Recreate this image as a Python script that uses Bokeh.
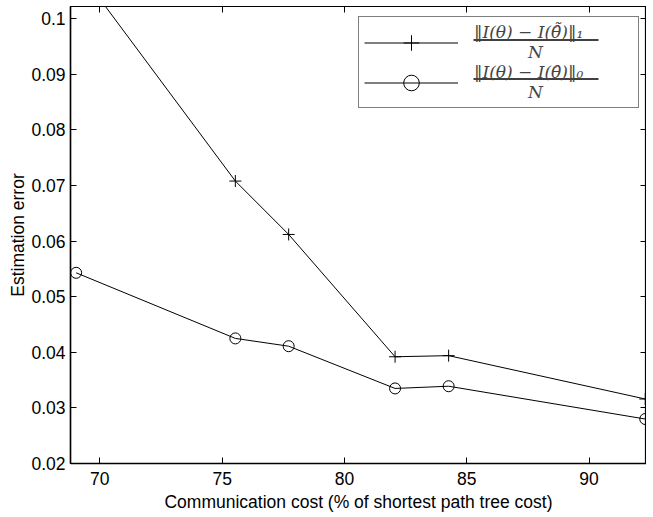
from bokeh.plotting import figure
from bokeh.models import (Range1d, FixedTicker, LinearAxis, Legend, LegendItem,
                          BoxAnnotation)
from bokeh.embed import file_html
from bokeh.resources import INLINE

# ---- data ----
cost = [69.03, 75.54, 77.72, 82.07, 84.26, 92.3]
err_l1 = [0.1093, 0.0708, 0.0612, 0.0392, 0.0394, 0.0316]
err_l0 = [0.0543, 0.0425, 0.0411, 0.0335, 0.0339, 0.0280]
x_ticks = [70, 75, 80, 85, 90]
y_ticks = [0.02, 0.03, 0.04, 0.05, 0.06, 0.07, 0.08, 0.09, 0.1]
y_tick_labels = ["0.02", "0.03", "0.04", "0.05", "0.06", "0.07", "0.08", "0.09", "0.1"]
label_l1 = "\u2016I(\u03b8) \u2212 I(\u03b8\u0302\u0303)\u2016\u2081\n          N"
label_l0 = "\u2016I(\u03b8) \u2212 I(\u03b8\u0302)\u2016\u2080\n          N"
x_title = "Communication cost (% of shortest path tree cost)"
y_title = "Estimation error"

X0, X1 = 68.8, 92.35
Y0, Y1 = 0.02, 0.1022

# ---- layout geometry (page px, measured on the rendered picture) ----
OX, OY = 4, 2            # observed canvas offset in the picture
FL, FW = 74, 576         # frame left, frame width
FT, FH = 8, 457          # frame top, frame height

def dx(px):
    return X0 + (px - FL) / FW * (X1 - X0)

def dy(py):
    return Y1 - (py - FT) / FH * (Y1 - Y0)

SANS = "Liberation Sans"
SERIF = "DejaVu Serif"
FS = "17.5px"

p = figure(frame_width=FW, frame_height=FH, x_range=Range1d(X0, X1),
           y_range=Range1d(Y0, Y1), output_backend="svg", toolbar_location=None,
           min_border_left=FL - OX, min_border_right=0, min_border_top=FT - OY,
           min_border_bottom=0)
p.background_fill_color = "white"
p.border_fill_color = "white"
p.grid.visible = False
p.outline_line_color = "black"
p.outline_line_width = 1.2

for ax in (p.xaxis[0], p.yaxis[0]):
    ax.major_tick_in = 6
    ax.major_tick_out = 0
    ax.minor_tick_line_color = None
    ax.axis_line_width = 1.5
    ax.major_tick_line_width = 1
    ax.major_label_text_font = SANS
    ax.major_label_text_font_size = FS
    ax.major_label_text_color = "black"
    ax.axis_label_text_font = SANS
    ax.axis_label_text_font_size = FS
    ax.axis_label_text_font_style = "normal"
    ax.axis_label_text_color = "black"

p.xaxis.ticker = FixedTicker(ticks=x_ticks)
p.yaxis.ticker = FixedTicker(ticks=y_ticks)
p.yaxis.major_label_overrides = {t: s for t, s in zip(y_ticks, y_tick_labels)}
p.xaxis.axis_label = x_title
p.yaxis.axis_label = y_title
p.xaxis.major_label_standoff = 8
p.xaxis.axis_label_standoff = 4
p.yaxis.major_label_standoff = 5
p.yaxis.axis_label_standoff = 0

for loc, tick in (("above", x_ticks), ("right", y_ticks)):
    ax = LinearAxis(ticker=FixedTicker(ticks=tick), major_tick_in=6,
                    major_tick_out=0, minor_tick_line_color=None,
                    major_label_text_font_size="1px", major_label_text_color=None,
                    major_label_standoff=0, axis_line_width=1.2)
    p.add_layout(ax, loc)

r1 = p.line(cost, err_l1, line_color="black", line_width=1)
m1 = p.scatter(cost, err_l1, marker="cross", size=12, line_color="black",
               line_width=1)
r0 = p.line(cost, err_l0, line_color="black", line_width=1)
m0 = p.scatter(cost, err_l0, marker="circle", size=11, line_color="black",
               fill_color=None, line_width=1)

# fraction bars (drawn under the transparent legend)
for yb in (41.5, 80.5):
    p.add_layout(BoxAnnotation(left=dx(477), right=dx(602), top=dy(yb - 0.8),
                               bottom=dy(yb + 0.8), fill_color="black",
                               fill_alpha=1, line_color=None))

legend = Legend(items=[LegendItem(label=label_l1, renderers=[r1, m1]),
                       LegendItem(label=label_l0, renderers=[r0, m0])],
                location=(362 - FL, FT + FH - 110),
                glyph_width=94, glyph_height=39, label_height=39, spacing=0,
                padding=5, label_standoff=16, label_width=159,
                border_line_color="black", border_line_width=1,
                background_fill_color=None,
                label_text_font=SERIF, label_text_font_style="italic",
                label_text_font_size="17px")
p.add_layout(legend)

open("out.html", "w").write(file_html(p, INLINE))
